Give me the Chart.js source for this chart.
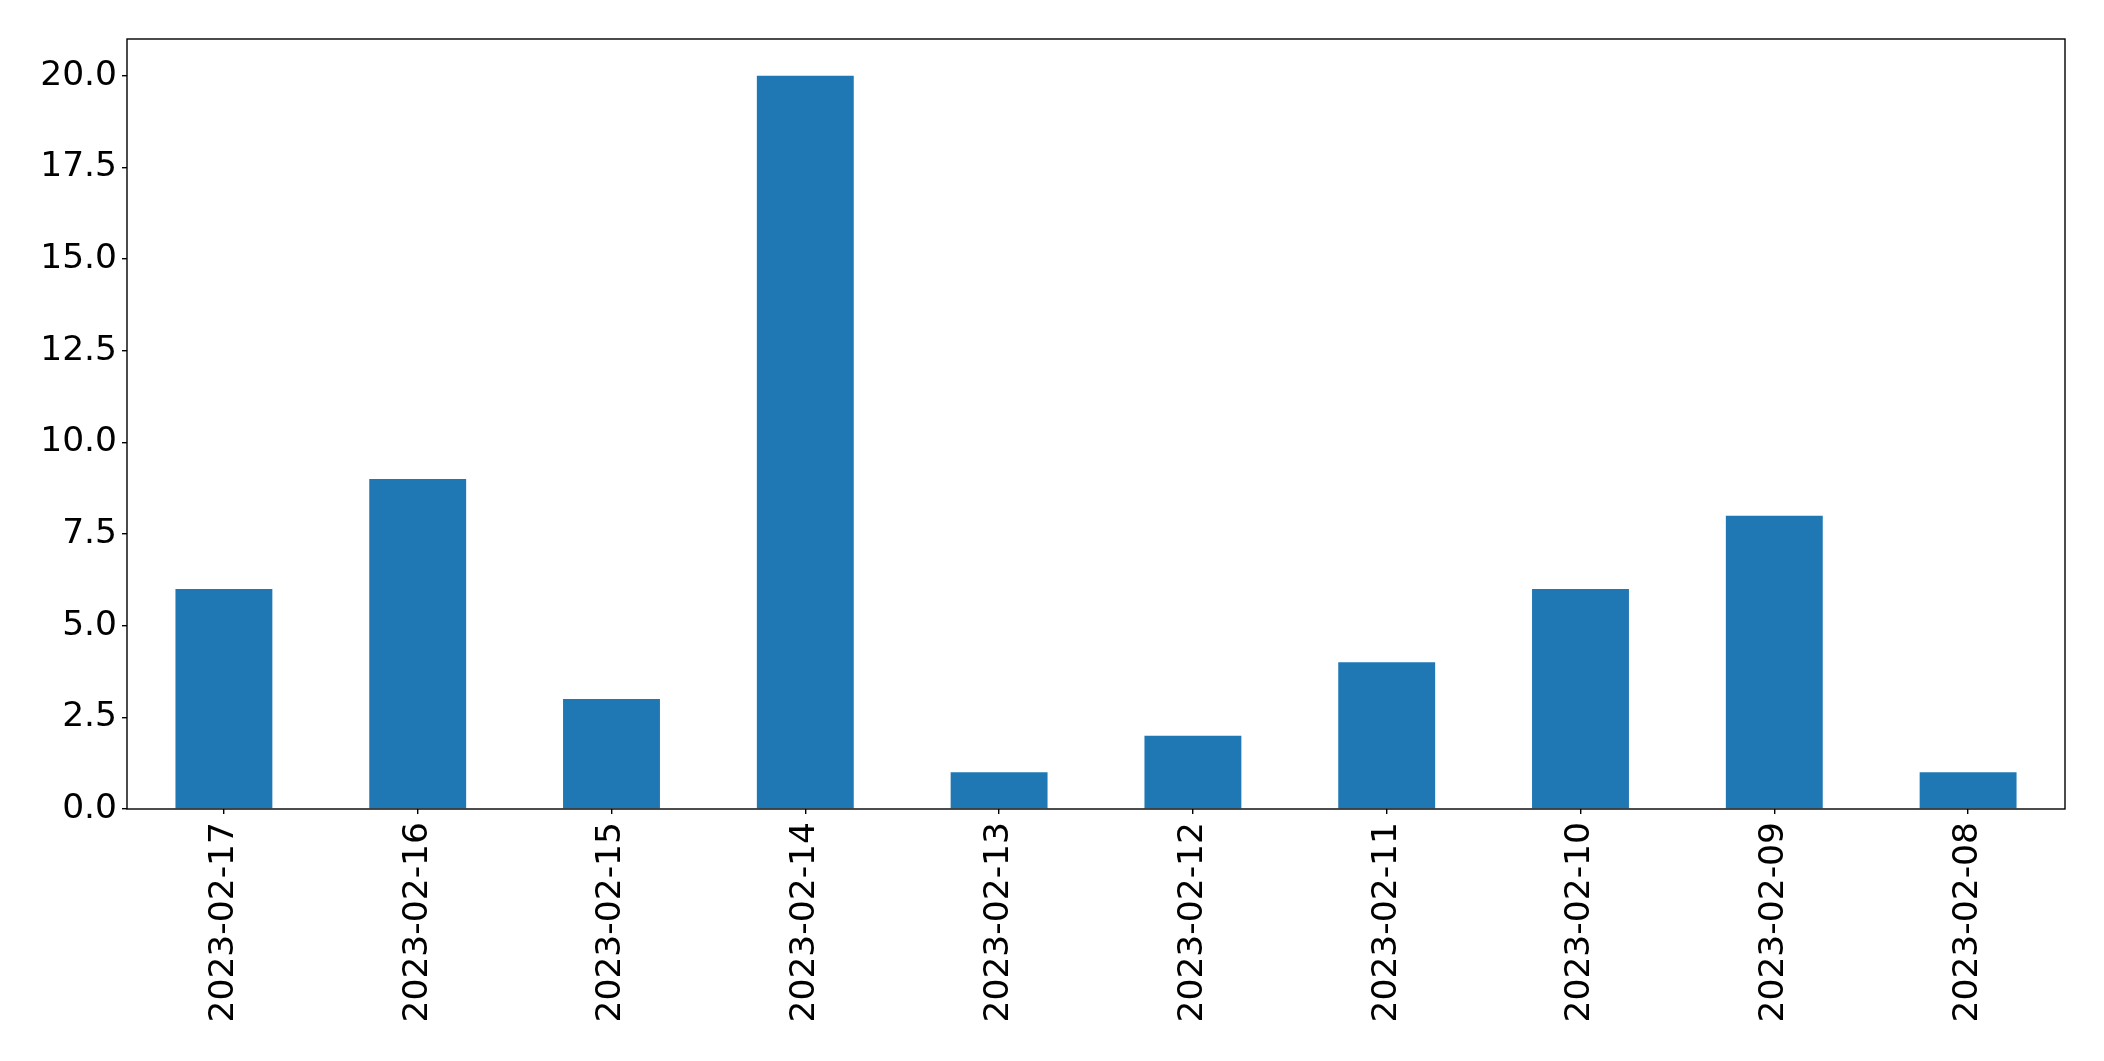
<!DOCTYPE html>
<html>
<head>
<meta charset="utf-8">
<script src="https://cdn.jsdelivr.net/npm/chart.js@4"></script>
<style>
  body { margin: 0; background: #fff; }
  canvas { display: block; }
</style>
</head>
<body>
<canvas id="grafica" width="2104" height="1061"></canvas>
<script>
const fechas = ['2023-02-17', '2023-02-16', '2023-02-15', '2023-02-14', '2023-02-13',
                '2023-02-12', '2023-02-11', '2023-02-10', '2023-02-09', '2023-02-08'];
const conteos = [6, 9, 3, 20, 1, 2, 4, 6, 8, 1];
const yMin = 0;
const yMax = 21;
const yPaso = 2.5;

// marco completo alrededor del area del grafico (estilo matplotlib)
const marco = {
    id: 'marco',
    afterDraw(chart) {
        const { ctx, chartArea } = chart;
        ctx.save();
        ctx.strokeStyle = '#000';
        ctx.lineWidth = 1.4;
        ctx.strokeRect(chartArea.left, chartArea.top, chartArea.right - chartArea.left, chartArea.bottom - chartArea.top);
        ctx.restore();
    }
};

const ctx = document.getElementById('grafica').getContext('2d');
new Chart(ctx, {
    type: 'bar',
    data: {
        labels: fechas,
        datasets: [{
            data: conteos,
            backgroundColor: '#1f77b4',
            borderWidth: 0,
            barPercentage: 0.5,
            categoryPercentage: 1.0
        }]
    },
    options: {
        responsive: false,
        animation: false,
        layout: { padding: { top: 39, right: 39, left: 0, bottom: 0 } },
        plugins: {
            legend: { display: false },
            tooltip: { enabled: false }
        },
        scales: {
            x: {
                grid: { display: true, offset: false, drawOnChartArea: false, drawTicks: true, tickLength: 5, color: '#000', lineWidth: 1.4 },
                border: { display: false },
                ticks: {
                    color: '#000',
                    font: { family: 'DejaVu Sans', size: 34.5 },
                    minRotation: 90,
                    maxRotation: 90,
                    padding: 8,
                    autoSkip: false
                },
                afterFit(scale) { scale.height = 252; }
            },
            y: {
                min: yMin,
                max: yMax,
                grid: { display: true, drawOnChartArea: false, drawTicks: true, tickLength: 5, color: '#000', lineWidth: 1.4 },
                border: { display: false },
                ticks: {
                    stepSize: yPaso,
                    includeBounds: false,
                    color: '#000',
                    font: { family: 'DejaVu Sans', size: 34.5 },
                    padding: 5,
                    callback: v => Number(v).toFixed(1)
                },
                afterFit(scale) { scale.width = 127; }
            }
        }
    },
    plugins: [marco]
});
</script>
</body>
</html>
